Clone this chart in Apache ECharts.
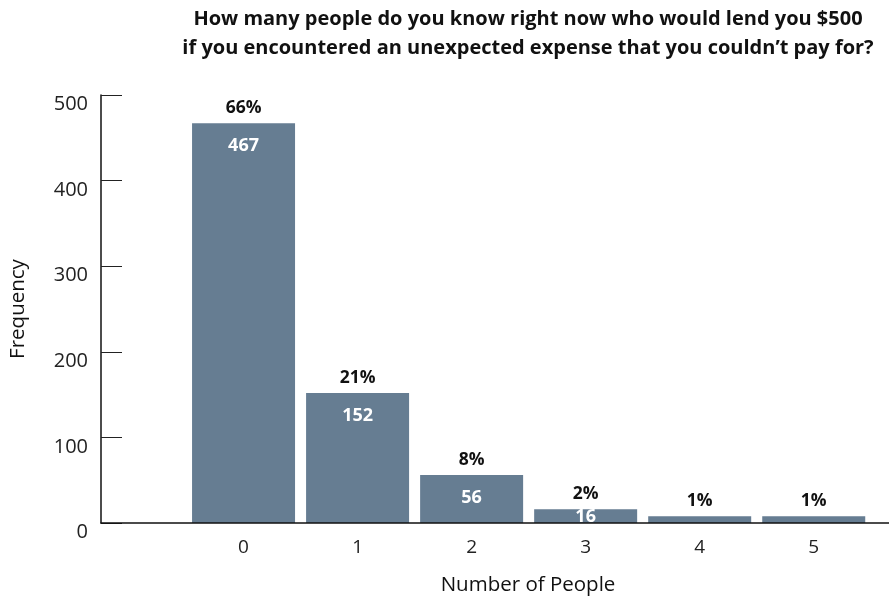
<!DOCTYPE html>
<html>
<head>
<meta charset="utf-8">
<script src="https://cdn.jsdelivr.net/npm/echarts@6/dist/echarts.min.js"></script>
<style>html,body{margin:0;padding:0;background:#fff}#c{width:889px;height:599px}</style>
</head>
<body>
<div id="c"></div>
<script>
var categories = ['0', '1', '2', '3', '4', '5'];
var counts = [467, 152, 56, 16, 8, 8];
var percents = [66, 21, 8, 2, 1, 1];
var showCount = [true, true, true, true, false, false];
var yTicks = [0, 100, 200, 300, 400, 500];
var titleLines = ['How many people do you know right now who would lend you $500',
  'if you encountered an unexpected expense that you couldn\u2019t pay for?'];
var xName = 'Number of People';
var yName = 'Frequency';

var FONT = "'Open Sans', 'Noto Sans', sans-serif";
var BAR = '#667d92';

var barData = counts.map(function (v, i) {
  return {
    value: [i, v],
    label: {
      show: showCount[i],
      distance: v < 30 ? -1 : 14
    }
  };
});
var pctData = counts.map(function (v, i) {
  return { value: [i, v], pct: percents[i] };
});

var chart = echarts.init(document.getElementById('c'), null, { renderer: 'canvas' });
chart.setOption({
  animation: false,
  backgroundColor: '#fff',
  grid: { left: 101, right: 0, top: 95, bottom: 76, containLabel: false, outerBoundsMode: 'none' },
  graphic: [{
    type: 'text', x: 528, y: 5,
    style: {
      text: titleLines.join('\n'),
      textAlign: 'center',
      fontFamily: "'Open Sans', sans-serif",
      fontWeight: 'bold',
      fontSize: 20,
      lineHeight: 29,
      fill: '#111'
    }
  }],
  xAxis: {
    type: 'value',
    min: -1.25,
    max: 5.66,
    z: 10,
    splitLine: { show: false },
    axisLine: { show: true, onZero: false, lineStyle: { color: '#111', width: 1.5 } },
    axisTick: { show: false },
    axisLabel: {
      customValues: categories.map(function (c, i) { return i; }),
      formatter: function (v) { return categories[Math.round(v)]; },
      margin: 15,
      fontSize: 19,
      color: '#222',
      fontFamily: FONT
    },
    name: xName,
    nameLocation: 'middle',
    nameGap: 52,
    nameTextStyle: { fontSize: 20.5, color: '#111', fontFamily: FONT, padding: [0, 0, 0, 66] }
  },
  yAxis: {
    type: 'value',
    min: 0,
    max: 500,
    interval: 100,
    splitLine: { show: false },
    axisLine: { show: true, onZero: false, lineStyle: { color: '#111', width: 1.5 } },
    axisTick: { show: true, inside: true, length: 21, lineStyle: { color: '#222' } },
    axisLabel: {
      customValues: yTicks,
      margin: 13,
      fontSize: 20,
      color: '#222',
      fontFamily: FONT,
      verticalAlign: 'top',
      lineHeight: 19
    },
    name: yName,
    nameLocation: 'middle',
    nameGap: 72,
    nameTextStyle: { fontSize: 20.5, color: '#111', fontFamily: FONT }
  },
  series: [{
    type: 'bar',
    data: barData,
    barWidth: 103,
    itemStyle: { color: BAR },
    label: {
      show: true,
      position: 'insideTop',
      color: '#fff',
      fontWeight: 'bold',
      fontSize: 18,
      fontFamily: FONT,
      formatter: function (p) { return p.value[1]; }
    },
    z: 2
  }, {
    type: 'bar',
    data: pctData,
    barWidth: 103,
    barGap: '-100%',
    itemStyle: { color: 'rgba(0,0,0,0)' },
    label: {
      show: true,
      position: 'top',
      distance: 6,
      color: '#111',
      fontWeight: 'bold',
      fontSize: 17.5,
      fontFamily: FONT,
      formatter: function (p) { return p.data.pct + '%'; }
    },
    z: 3
  }]
});
</script>
</body>
</html>
